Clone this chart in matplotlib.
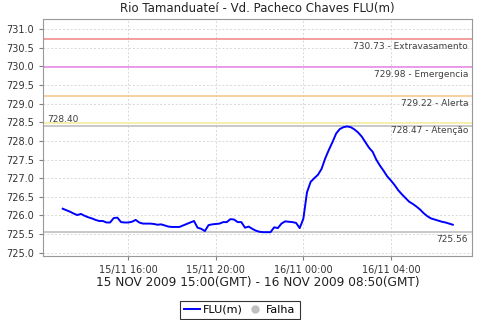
import datetime as dt
import matplotlib
matplotlib.use('Agg')
import matplotlib.pyplot as plt
import matplotlib.dates as mdates
from matplotlib.lines import Line2D

# level readings, 10 min apart, starting 15/11 13:00
start = dt.datetime(2009, 11, 15, 13, 0)
flu = [726.18, 726.14, 726.10, 726.05, 726.01, 726.04, 725.99, 725.95, 725.92, 725.88,
       725.85, 725.85, 725.81, 725.81, 725.93, 725.94, 725.82, 725.81, 725.81, 725.83,
       725.88, 725.81, 725.78, 725.78, 725.78, 725.77, 725.75, 725.76, 725.73, 725.70,
       725.69, 725.69, 725.69, 725.73, 725.77, 725.81, 725.85, 725.67, 725.64, 725.58,
       725.74, 725.76, 725.77, 725.78, 725.82, 725.82, 725.90, 725.89, 725.82, 725.82,
       725.67, 725.70, 725.64, 725.59, 725.56, 725.55, 725.55, 725.55, 725.68, 725.66,
       725.78, 725.84, 725.83, 725.82, 725.80, 725.66, 725.91, 726.62, 726.90, 727.00,
       727.09, 727.25, 727.53, 727.76, 727.97, 728.20, 728.32, 728.37, 728.39, 728.37,
       728.31, 728.23, 728.12, 727.97, 727.82, 727.71, 727.50, 727.34, 727.20, 727.05,
       726.94, 726.82, 726.68, 726.57, 726.47, 726.37, 726.31, 726.24, 726.16, 726.06,
       725.98, 725.92, 725.89, 725.86, 725.83, 725.81, 725.78, 725.75]
times = [start + dt.timedelta(minutes=10*i) for i in range(len(flu))]

# reference levels
lvl_vals = [730.73, 729.98, 729.22, 728.47]
lvl_names = ['Extravasamento', 'Emergencia', 'Alerta', 'Atenção']
lvl_colors = ['#f08c8c', '#e68ce6', '#f8c890', '#f8f0a0']
max_val = 728.40
min_val = 725.56

fig = plt.figure(figsize=(4.8, 3.2), dpi=100)
ax = fig.add_axes([0.090, 0.200, 0.894, 0.740])

for v, c in zip(lvl_vals, lvl_colors):
    ax.axhline(v, color=c, lw=1.2, zorder=2)
ax.axhline(max_val, color='#c0c0c0', lw=1.2, zorder=2)
ax.axhline(min_val, color='#c0c0c0', lw=1.2, zorder=2)

ax.plot(times, flu, color='#0000ff', lw=1.4, zorder=3)

span = times[-1] - times[0]
ax.set_xlim(times[0] - span*0.05, times[-1] + span*0.05)
ax.set_ylim(724.91, 731.27)

tf = dict(fontsize=6.5, color='#404040')
for v, n in zip(lvl_vals, lvl_names):
    ax.text(0.99, v - 0.08, '%.2f - %s' % (v, n), transform=ax.get_yaxis_transform(),
            ha='right', va='top', **tf)
ax.text(0.01, max_val + 0.06, '%.2f' % max_val, transform=ax.get_yaxis_transform(),
        ha='left', va='bottom', **tf)
ax.text(0.99, min_val - 0.08, '%.2f' % min_val, transform=ax.get_yaxis_transform(),
        ha='right', va='top', **tf)

ax.set_yticks([725.0 + 0.5*i for i in range(13)])
ax.yaxis.set_major_formatter(plt.FormatStrFormatter('%.1f'))
ax.xaxis.set_major_locator(mdates.HourLocator(byhour=range(0, 24, 4)))
ax.xaxis.set_major_formatter(mdates.DateFormatter('%d/%m %H:%M'))
ax.tick_params(labelsize=7, colors='#808080', labelcolor='#333333', length=3, width=0.8)
ax.grid(True, color='#d8d8d8', ls=(0, (2, 2)), lw=0.7)
for s in ax.spines.values():
    s.set_color('#999999')

ax.set_title('Rio Tamanduateí - Vd. Pacheco Chaves FLU(m)', fontsize=8.5, color='#222222', pad=5)
ax.set_xlabel('15 NOV 2009 15:00(GMT) - 16 NOV 2009 08:50(GMT)', fontsize=8.7, color='#222222', labelpad=1)

handles = [Line2D([], [], color='#0000ff', lw=1.4),
           Line2D([], [], ls='', marker='o', color='#c0c0c0', markersize=5)]
leg = fig.legend(handles, ['FLU(m)', 'Falha'], loc='lower center', bbox_to_anchor=(0.5, 0.0),
                 ncol=2, fontsize=8, frameon=True, fancybox=False, handlelength=1.4,
                 handletextpad=0.3, columnspacing=0.4, borderpad=0.35, borderaxespad=0.1)
leg.get_frame().set_edgecolor('black')
leg.get_frame().set_linewidth(0.8)

fig.savefig('out.png', dpi=100)
